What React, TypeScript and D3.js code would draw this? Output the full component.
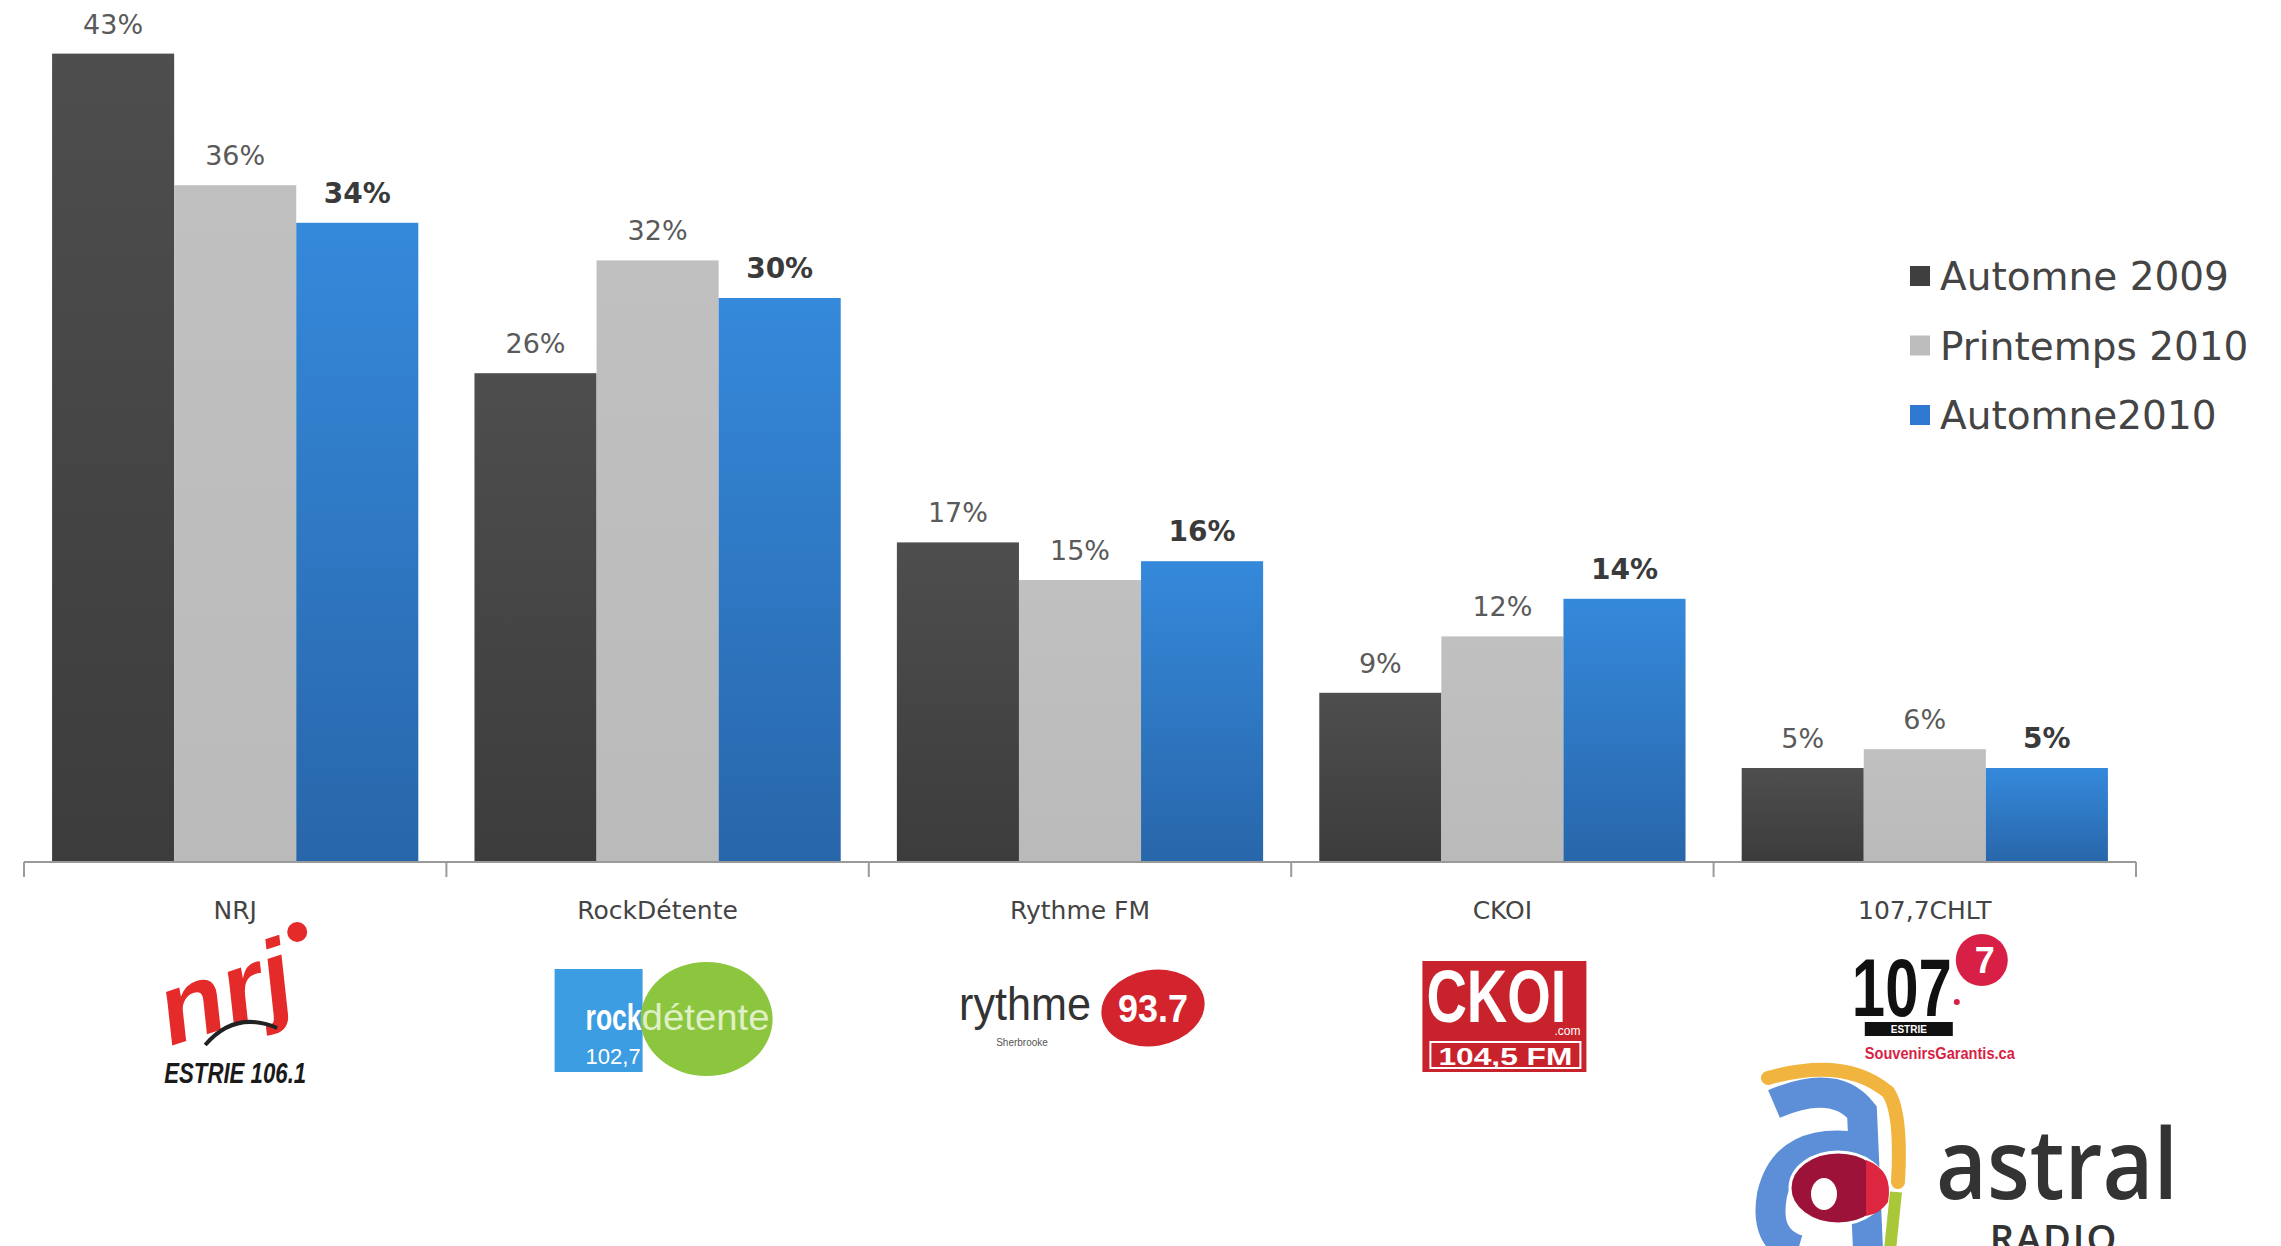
import React from "react";
import * as d3 from "d3";

const categories = ["NRJ", "RockDétente", "Rythme FM", "CKOI", "107,7CHLT"];
const seriesNames = ["Automne 2009", "Printemps 2010", "Automne2010"];
const automne2009 = [43, 26, 17, 9, 5];
const printemps2010 = [36, 32, 15, 12, 6];
const automne2010 = [34, 30, 16, 14, 5];
const seriesValues = [automne2009, printemps2010, automne2010];

const W = 2281;
const H = 1246;
const baseY = 862;
const X0 = 24;
const X1 = 2136;

const FONT = "'DejaVu Sans', Verdana, sans-serif";
const LOGO = "'Liberation Sans', Arial, sans-serif";

export default function App() {
  const x0 = d3.scaleBand<string>().domain(categories).range([X0, X1]).paddingInner(0).paddingOuter(0);
  const x1 = d3
    .scaleBand<string>()
    .domain(seriesNames)
    .range([0, x0.bandwidth()])
    .paddingInner(0)
    .paddingOuter(0.23);
  const y = d3.scaleLinear().domain([0, 46]).range([baseY, baseY - 46 * 18.8]);

  const fills = ["url(#gDark)", "url(#gGray)", "url(#gBlue)"];
  const legendColors = ["#3f3f3f", "#bdbdbd", "#2f7ad0"];
  const cx = (c: string) => (x0(c) as number) + x0.bandwidth() / 2;
  const ticks = [...categories.map((c) => x0(c) as number), X1];

  return (
    <svg
      width={W}
      height={H}
      style={{ position: "absolute", left: 0, top: 0, background: "#fff" }}
      fontFamily={FONT}
    >
      <defs>
        <linearGradient id="gDark" x1="0" y1="0" x2="0" y2="1">
          <stop offset="0" stopColor="#4e4e4e" />
          <stop offset="1" stopColor="#3c3c3c" />
        </linearGradient>
        <linearGradient id="gGray" x1="0" y1="0" x2="0" y2="1">
          <stop offset="0" stopColor="#c0c0c0" />
          <stop offset="1" stopColor="#bababa" />
        </linearGradient>
        <linearGradient id="gBlue" x1="0" y1="0" x2="0" y2="1">
          <stop offset="0" stopColor="#3589db" />
          <stop offset="1" stopColor="#2866aa" />
        </linearGradient>
      </defs>
      <rect width={W} height={H} fill="#fff" />

      {/* bars */}
      {categories.map((c, i) => (
        <g key={c} transform={`translate(${x0(c)},0)`}>
          {seriesNames.map((s, j) => {
            const v = seriesValues[j][i];
            const bx = x1(s) as number;
            const bw = x1.bandwidth();
            return (
              <g key={s}>
                <rect x={bx} y={y(v)} width={bw} height={baseY - y(v)} fill={fills[j]} />
                <text
                  x={bx + bw / 2}
                  y={y(v) - 20}
                  textAnchor="middle"
                  fontSize={j === 2 ? 28 : 27}
                  fontWeight={j === 2 ? "bold" : "normal"}
                  fill={j === 2 ? "#3a3a3a" : "#5a5a5a"}
                >
                  {v}%
                </text>
              </g>
            );
          })}
        </g>
      ))}

      {/* axis */}
      <line x1={X0} x2={X1} y1={baseY} y2={baseY} stroke="#9a9a9a" strokeWidth={2} />
      {ticks.map((t, i) => (
        <line key={i} x1={t} x2={t} y1={baseY} y2={baseY + 15} stroke="#9a9a9a" strokeWidth={2} />
      ))}
      {categories.map((c) => (
        <text key={c} x={cx(c)} y={919} textAnchor="middle" fontSize={25} fill="#444">
          {c}
        </text>
      ))}

      {/* legend */}
      {seriesNames.map((s, j) => (
        <g key={s} transform={`translate(1910,${276 + j * 69.5})`}>
          <rect x={0} y={-10} width={20} height={20} fill={legendColors[j]} />
          <text x={30} y={14} fontSize={39} fill="#444">
            {s}
          </text>
        </g>
      ))}

      {/* NRJ logo */}
      <g transform={`translate(${cx(categories[0])},0)`}>
        <g transform="translate(0,1025) rotate(-18)">
          <text
            x={0}
            y={0}
            textAnchor="middle"
            fontFamily={LOGO}
            fontWeight="bold"
            fontStyle="italic"
            fontSize={100}
            fill="#e52a2a"
            textLength={136}
            lengthAdjust="spacingAndGlyphs"
          >
            nrj
          </text>
        </g>
        <circle cx={62} cy={932} r={10} fill="#e52a2a" />
        <path d="M-30,1045 Q0,1010 42,1028" stroke="#222" strokeWidth={4} fill="none" />
        <text
          x={0}
          y={1083}
          textAnchor="middle"
          fontFamily={LOGO}
          fontWeight="bold"
          fontStyle="italic"
          fontSize={30}
          fill="#1a1a1a"
          textLength={142}
          lengthAdjust="spacingAndGlyphs"
        >
          ESTRIE 106.1
        </text>
      </g>

      {/* rockdétente logo */}
      <g transform={`translate(${cx(categories[1])},0)`}>
        <rect x={-103} y={969} width={88} height={103} fill="#3d9de2" />
        <ellipse cx={49} cy={1019} rx={66} ry={57} fill="#8cc63e" />
        <text
          x={-72}
          y={1030}
          fontFamily={LOGO}
          fontWeight="bold"
          fontSize={36}
          fill="#fff"
          textLength={56}
          lengthAdjust="spacingAndGlyphs"
        >
          rock
        </text>
        <text
          x={-16}
          y={1030}
          fontFamily={LOGO}
          fontSize={36}
          fill="#dff0c6"
          textLength={128}
          lengthAdjust="spacingAndGlyphs"
        >
          détente
        </text>
        <text x={-72} y={1064} fontFamily={LOGO} fontSize={22} fill="#fff">
          102,7
        </text>
      </g>

      {/* rythme logo */}
      <g transform={`translate(${cx(categories[2])},0)`}>
        <text
          x={-121}
          y={1020}
          fontFamily={LOGO}
          fontSize={46}
          fill="#333"
          textLength={132}
          lengthAdjust="spacingAndGlyphs"
        >
          rythme
        </text>
        <text x={-58} y={1046} textAnchor="middle" fontFamily={LOGO} fontSize={10} fill="#555">
          Sherbrooke
        </text>
        <ellipse cx={73} cy={1008} rx={52} ry={38} fill="#d3232d" transform="rotate(-10,73,1008)" />
        <text
          x={73}
          y={1022}
          textAnchor="middle"
          fontFamily={LOGO}
          fontWeight="bold"
          fontSize={38}
          fill="#fff"
          textLength={70}
          lengthAdjust="spacingAndGlyphs"
        >
          93.7
        </text>
      </g>

      {/* CKOI logo */}
      <g transform={`translate(${cx(categories[3])},0)`}>
        <rect x={-80} y={961} width={164} height={111} fill="#c8232c" />
        <text
          x={-6}
          y={1022}
          textAnchor="middle"
          fontFamily={LOGO}
          fontWeight="bold"
          fontSize={74}
          fill="#fff"
          textLength={140}
          lengthAdjust="spacingAndGlyphs"
        >
          CKOI
        </text>
        <text x={78} y={1035} textAnchor="end" fontFamily={LOGO} fontSize={12} fill="#fff">
          .com
        </text>
        <rect x={-72} y={1042} width={150} height={26} fill="none" stroke="#fff" strokeWidth={2} />
        <text
          x={3}
          y={1065}
          textAnchor="middle"
          fontFamily={LOGO}
          fontWeight="bold"
          fontSize={23}
          fill="#fff"
          textLength={134}
          lengthAdjust="spacingAndGlyphs"
        >
          104,5 FM
        </text>
      </g>

      {/* 107,7 logo */}
      <g transform={`translate(${cx(categories[4])},0)`}>
        <text
          x={-73}
          y={1016}
          fontFamily={LOGO}
          fontWeight="bold"
          fontSize={82}
          fill="#111"
          textLength={100}
          lengthAdjust="spacingAndGlyphs"
        >
          107
        </text>
        <circle cx={57} cy={960} r={26} fill="#d81f45" />
        <text x={60} y={973} textAnchor="middle" fontFamily={LOGO} fontWeight="bold" fontSize={36} fill="#fff">
          7
        </text>
        <circle cx={32} cy={1002} r={3} fill="#d81f45" />
        <rect x={-60} y={1022} width={88} height={14} fill="#111" />
        <text x={-16} y={1033} textAnchor="middle" fontFamily={LOGO} fontWeight="bold" fontSize={10} fill="#fff">
          ESTRIE
        </text>
        <text
          x={-60}
          y={1059}
          fontFamily={LOGO}
          fontWeight="bold"
          fontSize={16}
          fill="#d81f45"
          textLength={150}
          lengthAdjust="spacingAndGlyphs"
        >
          SouvenirsGarantis.ca
        </text>
      </g>

      {/* astral radio logo */}
      <g>
        <path d="M1768,1078 Q1845,1056 1888,1092 Q1902,1112 1898,1182" stroke="#f1b43f" strokeWidth={14} fill="none" strokeLinecap="round" />
        <path d="M1774,1104 Q1835,1078 1862,1112 L1868,1250" stroke="#5c8fd8" strokeWidth={30} fill="none" />
        <path d="M1864,1148 Q1786,1134 1772,1195 Q1764,1240 1798,1250" stroke="#5c8fd8" strokeWidth={30} fill="none" />
        <ellipse cx={1838} cy={1188} rx={48} ry={36} fill="#9c1238" stroke="#fff" strokeWidth={3} />
        <path d="M1866,1160 Q1894,1170 1888,1202 Q1880,1214 1866,1216 Z" fill="#dd2640" />
        <ellipse cx={1824} cy={1194} rx={13} ry={16} fill="#fff" />
        <path d="M1896,1192 L1890,1250" stroke="#a8c83a" strokeWidth={12} fill="none" />
        <text
          x={1936}
          y={1199}
          fontFamily="'Open Sans', 'Noto Sans', sans-serif"
          fontWeight={600}
          fontSize={98}
          fill="#333"
          textLength={242}
          lengthAdjust="spacingAndGlyphs"
        >
          astral
        </text>
        <text
          x={2054}
          y={1252}
          textAnchor="middle"
          fontFamily="'Open Sans', 'Noto Sans', sans-serif"
          fontWeight={600}
          fontSize={38}
          fill="#333"
          letterSpacing={2}
        >
          RADIO
        </text>
      </g>
    </svg>
  );
}
